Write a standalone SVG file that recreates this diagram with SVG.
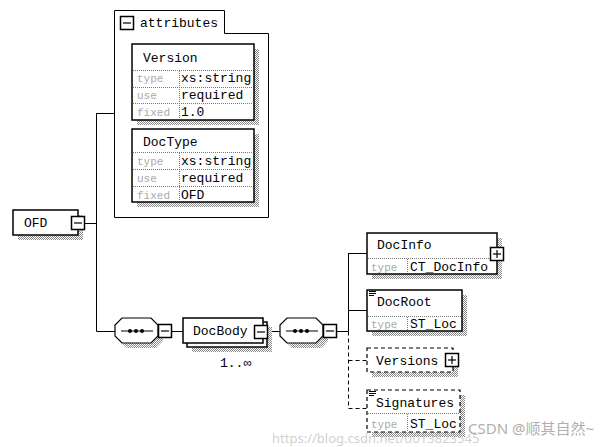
<svg xmlns="http://www.w3.org/2000/svg" width="604" height="447" viewBox="0 0 604 447">
<defs>
<pattern id="chk" width="2" height="2" patternUnits="userSpaceOnUse">
<rect width="2" height="2" fill="#fff"/>
<rect x="0" y="0" width="1" height="1" fill="#8a8a8a"/>
<rect x="1" y="1" width="1" height="1" fill="#8a8a8a"/>
</pattern>
<g id="minus"><rect x="0.5" y="0.5" width="13" height="13" fill="#fff" stroke="#000" stroke-width="1.5"/><line x1="3" y1="7" x2="11" y2="7" stroke="#000" stroke-width="1.2"/></g>
<g id="plus"><rect x="0.5" y="0.5" width="13" height="13" fill="#fff" stroke="#000" stroke-width="1.5"/><line x1="3" y1="7" x2="11" y2="7" stroke="#000" stroke-width="1.2"/><line x1="7" y1="3" x2="7" y2="11" stroke="#000" stroke-width="1.2"/></g>
<g id="lines3" stroke="#000" stroke-width="1"><line x1="0" y1="0.5" x2="7" y2="0.5"/><line x1="0" y1="2.5" x2="7" y2="2.5"/><line x1="0" y1="4.5" x2="5" y2="4.5"/></g>
<g id="seq">
<polygon points="12,5 41,5 48,12 48,23 41,30 12,30 5,23 5,12" fill="url(#chk)"/>
<polygon points="7,0 36,0 43,7 43,18 36,25 7,25 0,18 0,7" fill="#fff" stroke="#000" stroke-width="1.2"/>
<line x1="6" y1="13" x2="38" y2="13" stroke="#000" stroke-width="1"/>
<circle cx="15" cy="13" r="2" fill="#000"/><circle cx="21" cy="13" r="2" fill="#000"/><circle cx="27" cy="13" r="2" fill="#000"/>
</g>
</defs>
<style>
.t{font-family:"Liberation Mono","DejaVu Sans Mono",monospace;font-size:13px;fill:#000}
.g{font-family:"Liberation Mono","DejaVu Sans Mono",monospace;font-size:11px;fill:#aaa}
.box{fill:#fff;stroke:#000;stroke-width:1.5}
.dbox{fill:#fff;stroke:#000;stroke-width:1.2;stroke-dasharray:4 3}
.sh{fill:url(#chk)}
.dot{stroke:#777;stroke-width:1;stroke-dasharray:1 1;fill:none}
.ln{stroke:#000;stroke-width:1;fill:none}
.dln{stroke:#000;stroke-width:1;fill:none;stroke-dasharray:4 3}
</style>
<rect width="604" height="447" fill="#fff"/>

<g id="connectors">
<path class="ln" d="M85,223.5 H96.5 M96.5,113 V331.5 M96.5,113.5 H114 M96.5,331.5 H115 M172,331.5 H183 M268,331.5 H280 M337,331.5 H348.5 M348.5,253 V331.5 M348.5,253.5 H367 M348.5,310.5 H367"/>
<path class="dln" d="M348.5,331.5 V408.5 H367 M348.5,360.5 H367"/>
</g>

<g id="attributes">
<path d="M114.5,217.5 V10.5 H224.5 V33.5 H268.5 V217.5 Z" fill="none" stroke="#000" stroke-width="1"/>
<use href="#minus" x="120" y="16"/>
<text class="t" x="140" y="27">attributes</text>
</g>

<g id="Version">
<rect class="sh" x="137" y="49" width="122" height="76"/>
<rect class="box" x="132" y="44" width="122" height="76"/>
<text class="t" x="143" y="62">Version</text>
<path class="dot" d="M133,70.5 H253 M133,87.5 H253 M133,103.5 H253 M179.5,71 V119"/>
<text class="g" x="137" y="82">type</text><text class="t" x="181" y="82">xs:string</text>
<text class="g" x="137" y="99">use</text><text class="t" x="181" y="99">required</text>
<text class="g" x="137" y="116">fixed</text><text class="t" x="181" y="116">1.0</text>
</g>

<g id="DocType">
<rect class="sh" x="137" y="134" width="122" height="73"/>
<rect class="box" x="132" y="129" width="122" height="73"/>
<text class="t" x="143" y="146">DocType</text>
<path class="dot" d="M133,152.5 H253 M133,169.5 H253 M133,186.5 H253 M179.5,153 V201"/>
<text class="g" x="137" y="165">type</text><text class="t" x="181" y="165">xs:string</text>
<text class="g" x="137" y="182">use</text><text class="t" x="181" y="182">required</text>
<text class="g" x="137" y="199">fixed</text><text class="t" x="181" y="199">OFD</text>
</g>

<g id="OFD">
<rect class="sh" x="18" y="215" width="65" height="25"/>
<rect class="box" x="13" y="210" width="65" height="25"/>
<text class="t" x="24" y="227">OFD</text>
<use href="#minus" x="71" y="216"/>
</g>

<g id="seq1">
<use href="#seq" x="115" y="318"/>
<use href="#minus" x="158" y="324"/>
</g>

<g id="DocBody">
<rect class="sh" x="192" y="327" width="80" height="25"/>
<rect class="box" x="187" y="322" width="80" height="25"/>
<rect class="box" x="183" y="318" width="80" height="25"/>
<text class="t" x="193" y="335">DocBody</text>
<use href="#minus" x="254" y="325"/>
<text class="t" x="220" y="367">1..∞</text>
</g>

<g id="seq2">
<use href="#seq" x="280" y="318"/>
<use href="#minus" x="323" y="324"/>
</g>

<g id="DocInfo">
<rect class="sh" x="372" y="238" width="130" height="41"/>
<rect class="box" x="367" y="233" width="130" height="41"/>
<text class="t" x="377" y="249">DocInfo</text>
<path class="dot" d="M368,258.5 H496 M407.5,259 V273"/>
<text class="g" x="371" y="271">type</text><text class="t" x="410" y="271">CT_DocInfo</text>
<use href="#plus" x="490" y="247"/>
</g>

<g id="DocRoot">
<rect class="sh" x="372" y="295" width="95" height="41"/>
<rect class="box" x="367" y="290" width="95" height="41"/>
<use href="#lines3" x="369" y="291"/>
<text class="t" x="377" y="306">DocRoot</text>
<path class="dot" d="M368,316.5 H461 M407.5,317 V330"/>
<text class="g" x="371" y="328">type</text><text class="t" x="410" y="328">ST_Loc</text>
</g>

<g id="Versions">
<rect class="sh" x="372" y="353" width="86" height="24"/>
<rect class="dbox" x="367" y="348" width="86" height="24"/>
<text class="t" x="376" y="365">Versions</text>
<use href="#plus" x="445" y="353"/>
</g>

<g id="Signatures">
<rect class="sh" x="372" y="395" width="93" height="42"/>
<rect class="dbox" x="367" y="390" width="93" height="42"/>
<use href="#lines3" x="369" y="391"/>
<text class="t" x="376" y="407">Signatures</text>
<path class="dot" d="M368,413.5 H459 M407.5,414 V431"/>
<text class="g" x="371" y="428">type</text><text class="t" x="410" y="428">ST_Loc</text>
</g>

<g id="watermark" font-family="'Noto Sans','Noto Sans CJK SC',sans-serif">
<text x="272" y="443" font-size="13" fill="#bbb" fill-opacity="0.7">https://blog.csdn.net/u013823545</text>
<text x="468" y="434" font-size="15" fill="#999" fill-opacity="0.8">CSDN @顺其自然~</text>
</g>
</svg>
